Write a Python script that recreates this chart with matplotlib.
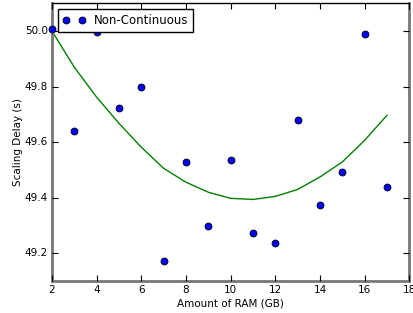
import matplotlib
matplotlib.use("Agg")
import matplotlib.pyplot as plt

plt.style.use("classic")

ram_gb = [2, 3, 4, 5, 6, 7, 8, 9, 10, 11, 12, 13, 14, 15, 16, 17]
delay_s = [50.007, 49.640, 49.996, 49.723, 49.800, 49.171, 49.528, 49.297,
           49.535, 49.272, 49.236, 49.679, 49.373, 49.492, 49.989, 49.438]
fit_s = [50.000, 49.870, 49.762, 49.668, 49.582, 49.506, 49.456, 49.420,
         49.398, 49.394, 49.405, 49.430, 49.475, 49.529, 49.607, 49.697]

fig = plt.figure(figsize=(4.13, 3.13), dpi=100, facecolor="white")
ax = fig.add_axes([0.126, 0.102, 0.865, 0.887])
ax.plot(ram_gb, delay_s, "o", color="blue", markersize=5, markeredgecolor="black",
        markeredgewidth=0.6, label="Non-Continuous", clip_on=False, zorder=3)
ax.plot(ram_gb, fit_s, "-", color="green", linewidth=1)
ax.set_xlim(2, 18)
ax.set_ylim(49.1, 50.1)
ax.ticklabel_format(useOffset=False, axis="y")
ax.set_xticks([2, 4, 6, 8, 10, 12, 14, 16, 18])
ax.set_yticks([49.2, 49.4, 49.6, 49.8, 50.0])
ax.tick_params(labelsize=7.5, direction="in", length=4, width=0.8, pad=3)
for side in ["left", "bottom", "right"]:
    ax.spines[side].set_color("#777777")
    ax.spines[side].set_linewidth(2)
ax.spines["top"].set_color("black")
ax.spines["top"].set_linewidth(1.0)
ax.set_xlabel("Amount of RAM (GB)", fontsize=7.5, labelpad=2)
ax.set_ylabel("Scaling Delay (s)", fontsize=7.5, labelpad=1)
ax.legend(loc="upper left", numpoints=2, fontsize=8.5, borderaxespad=0.5,
          handlelength=1.9, handletextpad=0.75, borderpad=0.4)
fig.savefig("out.png", dpi=100, facecolor="white")
